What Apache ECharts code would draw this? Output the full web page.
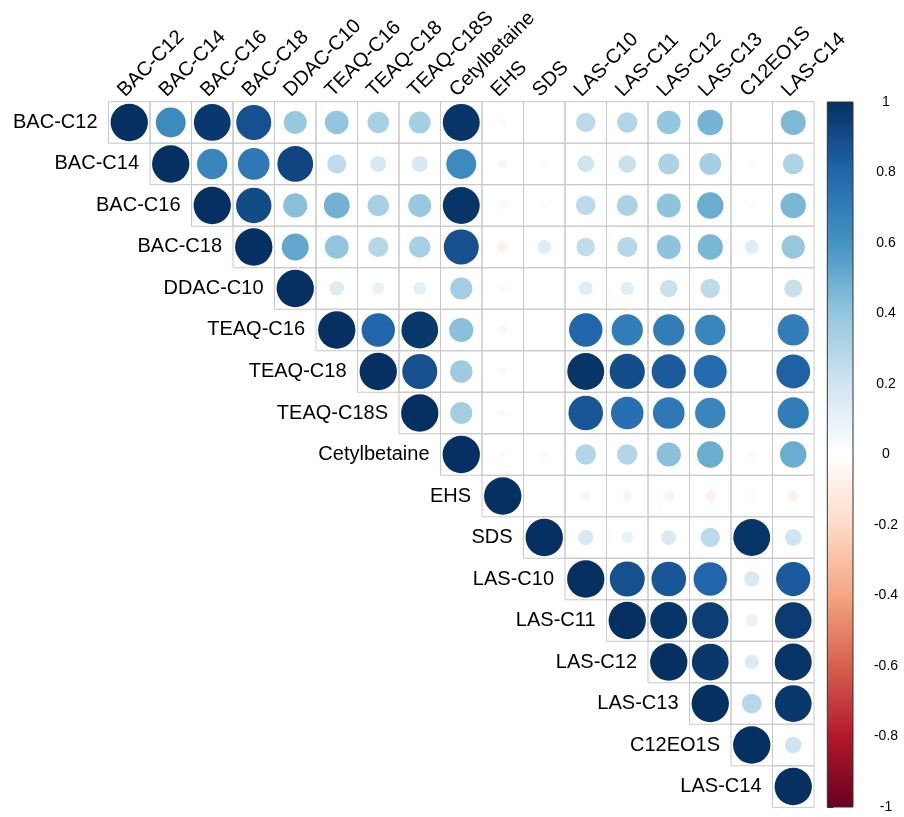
<!DOCTYPE html>
<html>
<head>
<meta charset="utf-8">
<script src="https://cdn.jsdelivr.net/npm/echarts@6/dist/echarts.min.js"></script>
<style>html,body{margin:0;padding:0;background:#fff;}#chart{width:904px;height:817px;}</style>
</head>
<body>
<div id="chart"></div>
<script>
// Variable names (columns / rows)
const variables = ['BAC-C12','BAC-C14','BAC-C16','BAC-C18','DDAC-C10','TEAQ-C16','TEAQ-C18','TEAQ-C18S','Cetylbetaine','EHS','SDS','LAS-C10','LAS-C11','LAS-C12','LAS-C13','C12EO1S','LAS-C14'];

// Upper-triangle correlations, each row starts at its diagonal
const rowBAC_C12   = [1, 0.64, 0.97, 0.88, 0.38, 0.40, 0.33, 0.34, 0.98, -0.04, -0.01, 0.27, 0.30, 0.40, 0.47, 0.01, 0.45];
const rowBAC_C14   = [1, 0.66, 0.72, 0.92, 0.26, 0.18, 0.18, 0.64, -0.06, -0.03, 0.20, 0.22, 0.32, 0.34, -0.03, 0.31];
const rowBAC_C16   = [1, 0.90, 0.42, 0.48, 0.33, 0.38, 0.98, -0.05, -0.02, 0.27, 0.32, 0.41, 0.50, -0.02, 0.46];
const rowBAC_C18   = [1, 0.52, 0.40, 0.29, 0.33, 0.88, -0.08, 0.14, 0.25, 0.29, 0.41, 0.46, 0.14, 0.39];
const rowDDAC_C10  = [1, 0.15, 0.10, 0.12, 0.35, -0.04, -0.02, 0.14, 0.13, 0.22, 0.27, -0.02, 0.23];
const rowTEAQ_C16  = [1, 0.80, 0.97, 0.42, -0.05, -0.01, 0.80, 0.70, 0.70, 0.66, -0.01, 0.70];
const rowTEAQ_C18  = [1, 0.88, 0.36, -0.04, -0.01, 0.98, 0.89, 0.84, 0.78, -0.01, 0.82];
const rowTEAQ_C18S = [1, 0.35, -0.04, 0.00, 0.86, 0.76, 0.72, 0.66, 0.00, 0.70];
const rowCetylbetaine = [1, -0.03, 0.04, 0.30, 0.30, 0.42, 0.50, 0.04, 0.50];
const rowEHS       = [1, -0.02, -0.06, -0.06, -0.08, -0.08, -0.03, -0.08];
const rowSDS       = [1, 0.17, 0.10, 0.16, 0.27, 0.98, 0.20];
const rowLAS_C10   = [1, 0.88, 0.86, 0.80, 0.17, 0.84];
const rowLAS_C11   = [1, 0.98, 0.95, 0.10, 0.96];
const rowLAS_C12   = [1, 0.97, 0.15, 0.98];
const rowLAS_C13   = [1, 0.28, 0.97];
const rowC12EO1S   = [1, 0.20];
const rowLAS_C14   = [1];

// Colour bar ticks / palette
const colorbarTicks = [-1, -0.8, -0.6, -0.4, -0.2, 0, 0.2, 0.4, 0.6, 0.8, 1];
const rdbuPalette = ['#67001F','#B2182B','#D6604D','#F4A582','#FDDBC7','#FFFFFF','#D1E5F0','#92C5DE','#4393C3','#2166AC','#053061'];

const rows = [rowBAC_C12,rowBAC_C14,rowBAC_C16,rowBAC_C18,rowDDAC_C10,rowTEAQ_C16,rowTEAQ_C18,rowTEAQ_C18S,rowCetylbetaine,rowEHS,rowSDS,rowLAS_C10,rowLAS_C11,rowLAS_C12,rowLAS_C13,rowC12EO1S,rowLAS_C14];

const cellData = [];
rows.forEach((r, i) => r.forEach((v, k) => cellData.push([i + k, i, v])));
const diagData = variables.map((n, i) => [i, i]);

const FONT = 'Liberation Sans, Arial, sans-serif';
const chart = echarts.init(document.getElementById('chart'));
chart.setOption({
  animation: false,
  backgroundColor: '#fff',
  grid: [
    {left: 108.5, top: 101.7, width: 705.5, height: 705.6},
    {left: 827.3, top: 102, width: 25.7, height: 705}
  ],
  xAxis: [
    {type: 'category', data: variables, position: 'top', gridIndex: 0,
     axisLine: {show: false}, axisTick: {show: false}, splitLine: {show: false}, axisLabel: {show: false}},
    {type: 'value', gridIndex: 1, min: 0, max: 1, show: false}
  ],
  yAxis: [
    {type: 'category', data: variables, inverse: true, gridIndex: 0, show: false},
    {type: 'value', gridIndex: 1, min: -1, max: 1, interval: 0.2, position: 'right',
     axisLine: {show: false}, splitLine: {show: false},
     axisTick: {show: true, length: 6, lineStyle: {color: '#333', width: 1}},
     axisLabel: {align: 'center', margin: 33, fontSize: 14, color: '#000', fontFamily: FONT,
       formatter: v => String(Math.round(v * 10) / 10)}}
  ],
  visualMap: {
    type: 'continuous', show: false, min: -1, max: 1, dimension: 2, seriesIndex: 0,
    inRange: {color: rdbuPalette}
  },
  series: [
    {
      type: 'custom', xAxisIndex: 0, yAxisIndex: 0, data: cellData,
      encode: {x: 0, y: 1},
      renderItem: function (params, api) {
        const c = api.coord([api.value(0), api.value(1)]);
        const s = api.size([1, 1]);
        const v = api.value(2);
        return {type: 'group', children: [
          {type: 'rect', shape: {x: c[0] - s[0] / 2, y: c[1] - s[1] / 2, width: s[0], height: s[1]},
           style: {fill: null, stroke: '#C8C8C8', lineWidth: 1}},
          {type: 'circle', shape: {cx: c[0], cy: c[1], r: 0.45 * Math.sqrt(Math.abs(v)) * s[0]},
           style: {fill: api.visual('color')}}
        ]};
      }
    },
    {
      // row labels beside the diagonal, column labels above the top row
      type: 'custom', xAxisIndex: 0, yAxisIndex: 0, data: diagData, silent: true,
      encode: {x: 0, y: 1},
      renderItem: function (params, api) {
        const i = api.value(0);
        const c = api.coord([i, api.value(1)]);
        const s = api.size([1, 1]);
        const topY = params.coordSys.y;
        return {type: 'group', children: [
          {type: 'text', x: c[0] - s[0] / 2 - 11, y: c[1],
           style: {text: variables[i], textAlign: 'right', align: 'right', textVerticalAlign: 'middle', verticalAlign: 'middle',
                   fontSize: 20, fontFamily: FONT, fill: '#000'}},
          {type: 'text', x: c[0] - 1, y: topY - 1, rotation: Math.PI / 4,
           style: {text: variables[i], textAlign: 'left', align: 'left', textVerticalAlign: 'bottom', verticalAlign: 'bottom',
                   fontSize: 20, fontFamily: FONT, fill: '#000'}}
        ]};
      }
    },
    {
      type: 'custom', xAxisIndex: 1, yAxisIndex: 1, data: [[0.5, 0]], silent: true,
      renderItem: function (params, api) {
        const top = api.coord([0, colorbarTicks[colorbarTicks.length - 1]])[1];
        const bottom = api.coord([0, colorbarTicks[0]])[1];
        const cs = params.coordSys;
        const stops = rdbuPalette.slice().reverse().map((col, k) => ({offset: k / (rdbuPalette.length - 1), color: col}));
        return {type: 'rect', shape: {x: cs.x, y: top, width: cs.width, height: bottom - top},
          style: {fill: new echarts.graphic.LinearGradient(0, 0, 0, 1, stops), stroke: '#333', lineWidth: 1}};
      }
    }
  ]
});
</script>
</body>
</html>
